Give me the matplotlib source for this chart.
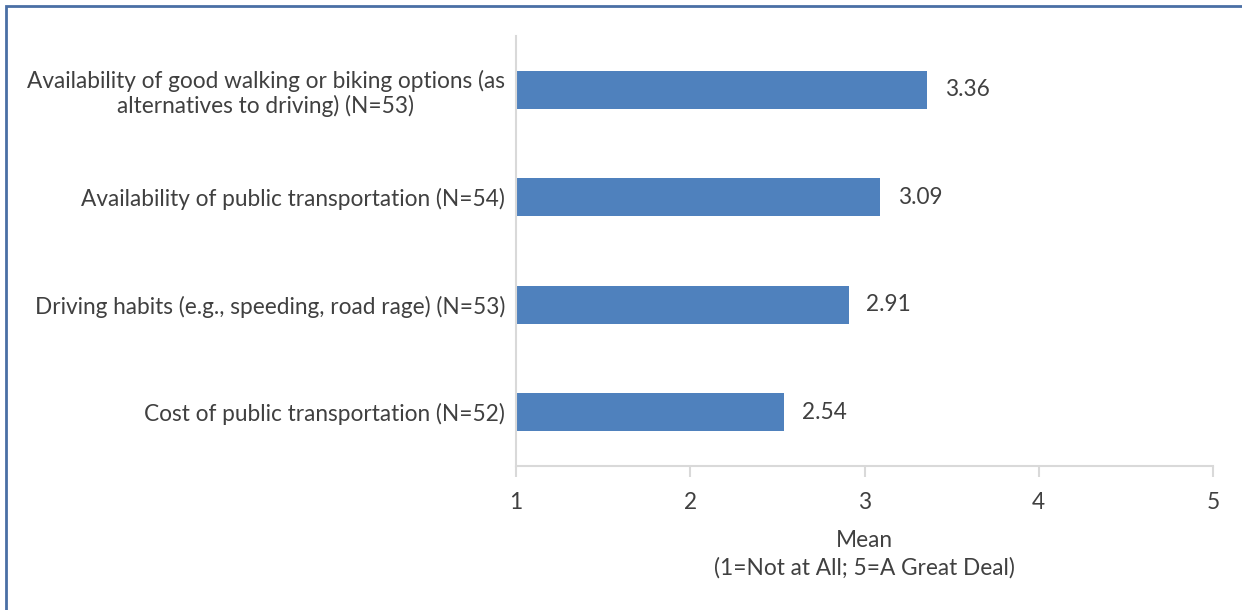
import matplotlib

matplotlib.use("Agg")
import matplotlib.pyplot as plt
from matplotlib.patches import Rectangle

# top to bottom as shown in the chart
categories = [
    "Availability of good walking or biking options (as\nalternatives to driving) (N=53)",
    "Availability of public transportation (N=54)",
    "Driving habits (e.g., speeding, road rage) (N=53)",
    "Cost of public transportation (N=52)",
]
means = [3.36, 3.09, 2.91, 2.54]
x_ticks = [1, 2, 3, 4, 5]

BAR = "#4F81BD"
TEXT = "#404040"
AXIS = "#D9D9D9"
FS = 16.3

plt.rcParams["font.family"] = ["Lato", "DejaVu Sans"]

W, H = 1242, 610
fig = plt.figure(figsize=(W / 100, H / 100), dpi=100)
ax = fig.add_axes([516 / W, 1 - 466 / H, (1213 - 516) / W, (466 - 36) / H])

pos = list(range(len(categories)))
ax.barh(pos, [m - 1 for m in means], left=1, height=0.35, color=BAR)
for p, m in zip(pos, means):
    ax.text(m + 0.1, p, f"{m:.2f}", va="center", ha="left", fontsize=FS, color=TEXT)

ax.set_xlim(1, 5)
ax.set_ylim(len(categories) - 0.5, -0.5)
ax.set_xticks(x_ticks)
ax.set_xticklabels([str(t) for t in x_ticks])
ax.set_yticks(pos)
ax.set_yticklabels(categories, ha="right", multialignment="center")

ax.tick_params(axis="y", length=0, pad=8, labelsize=FS, labelcolor=TEXT)
ax.tick_params(axis="x", length=8, width=1.5, color=AXIS, pad=11, labelsize=FS, labelcolor=TEXT)
for s in ["top", "right"]:
    ax.spines[s].set_visible(False)
for s in ["left", "bottom"]:
    ax.spines[s].set_color(AXIS)
    ax.spines[s].set_linewidth(1.5)

ax.set_xlabel("Mean\n(1=Not at All; 5=A Great Deal)", fontsize=FS, color=TEXT,
              labelpad=12, linespacing=1.35)

# outer frame (right and bottom edges run off the image)
fig.patches.append(Rectangle((6 / W, -0.1), 1.2, 1 - 6 / H + 0.1, transform=fig.transFigure,
                             fill=False, edgecolor="#4A6FA5", linewidth=2))

fig.savefig("out.png", dpi=100)
